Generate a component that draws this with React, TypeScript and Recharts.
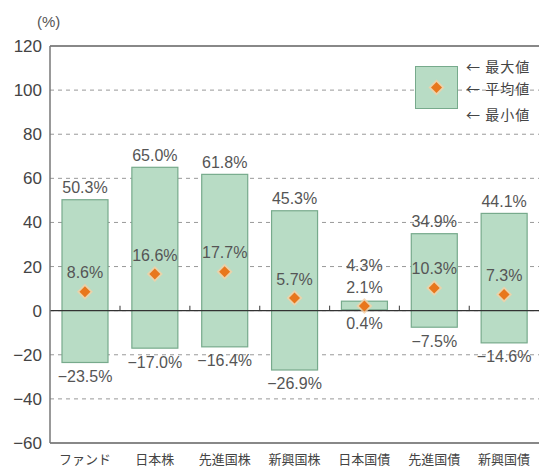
import React from "react";
import {
  ComposedChart,
  Bar,
  Line,
  XAxis,
  YAxis,
  CartesianGrid,
  ReferenceLine,
} from "recharts";

const categories = ["ファンド", "日本株", "先進国株", "新興国株", "日本国債", "先進国債", "新興国債"];
const maxValues = [50.3, 65.0, 61.8, 45.3, 4.3, 34.9, 44.1];
const meanValues = [8.6, 16.6, 17.7, 5.7, 2.1, 10.3, 7.3];
const minValues = [-23.5, -17.0, -16.4, -26.9, 0.4, -7.5, -14.6];
const yTicks = [-60, -40, -20, 0, 20, 40, 60, 80, 100, 120];
const legendLabels = ["最大値", "平均値", "最小値"];

const data = categories.map((name, i) => ({
  name,
  range: [minValues[i], maxValues[i]],
  max: maxValues[i],
  mean: meanValues[i],
  min: minValues[i],
  idx: i,
}));

const GAP = 12;
const numFont = "'Liberation Sans', Arial, sans-serif";
const jpFont = "'Noto Sans CJK JP', sans-serif";
const barFill = "#b8dcc5";
const barStroke = "#77aa8c";

const fmt = (v: number) => (v < 0 ? "\u2212" + Math.abs(v).toFixed(1) : v.toFixed(1)) + "%";

const RangeShape = (props: any) => {
  const { x, y, width, height, payload } = props;
  const top = Math.min(y, y + height);
  const h = Math.abs(height);
  const span = payload.max - payload.min;
  const perUnit = h / span;
  const meanY = top + (payload.max - payload.mean) * perUnit;
  const zeroY = top + payload.max * perUnit;
  const cx = x + width / 2;
  const meanLabelY = meanY - 19;
  const maxLabelY = Math.min(top - 12, meanLabelY - 22);
  const txt = { fontFamily: numFont, fontSize: 16, fill: "#555", textAnchor: "middle" as const, dominantBaseline: "central" as const };
  return (
    <g>
      <rect x={x} y={top} width={width} height={h} fill={barFill} stroke={barStroke} strokeWidth={1.2} />
      {payload.idx < categories.length - 1 && (
        <line x1={x + width + GAP} x2={x + width + GAP} y1={zeroY - 5} y2={zeroY} stroke="#555" strokeWidth={1.2} />
      )}
      <text x={cx} y={maxLabelY} {...txt}>{fmt(payload.max)}</text>
      <text x={cx} y={meanLabelY} {...txt}>{fmt(payload.mean)}</text>
      <text x={cx} y={top + h + 14} {...txt}>{fmt(payload.min)}</text>
    </g>
  );
};

const Diamond = (props: any) => {
  const { cx, cy } = props;
  if (cx == null || cy == null) return null;
  return (
    <g>
      <polygon points={`${cx},${cy - 8} ${cx + 8},${cy} ${cx},${cy + 8} ${cx - 8},${cy}`} fill="#f6cfa4" opacity={0.8} />
      <polygon points={`${cx},${cy - 5.5} ${cx + 5.5},${cy} ${cx},${cy + 5.5} ${cx - 5.5},${cy}`} fill="#e8771d" />
    </g>
  );
};

export default function App() {
  return (
    <div style={{ position: "absolute", left: 0, top: 0, width: 539, height: 475, background: "#fff" }}>
      <ComposedChart
        width={539}
        height={475}
        data={data}
        margin={{ top: 46, right: 0, left: 0, bottom: 0 }}
        barCategoryGap={GAP}
      >
        <CartesianGrid vertical={false} stroke="#999" strokeDasharray="4 4" />
        <XAxis
          dataKey="name"
          axisLine={false}
          tickLine={false}
          height={32}
          tick={{ fontSize: 13, fill: "#444", fontFamily: jpFont }}
          interval={0}
          tickMargin={6}
        />
        <YAxis
          domain={[-60, 120]}
          ticks={yTicks}
          width={50}
          axisLine={{ stroke: "#777", strokeWidth: 1.5 }}
          tickLine={false}
          tickMargin={2}
          tickFormatter={(v: number) => (v < 0 ? "\u2212" + Math.abs(v) : String(v))}
          tick={{ fontSize: 17, fill: "#444", fontFamily: numFont }}
        />
        <ReferenceLine y={120} stroke="#888" strokeWidth={2} />
        <ReferenceLine y={-60} stroke="#888" strokeWidth={2} />
        <ReferenceLine y={0} stroke="#333" strokeWidth={1.2} />
        <Bar dataKey="range" shape={RangeShape} isAnimationActive={false} />
        <Line
          dataKey="mean"
          stroke="none"
          dot={<Diamond />}
          activeDot={false}
          isAnimationActive={false}
        />
      </ComposedChart>
      <div style={{ position: "absolute", left: 37, top: 13, fontFamily: numFont, fontSize: 15, color: "#555" }}>(%)</div>
      <div style={{ position: "absolute", left: 415, top: 66, width: 43, height: 43, boxSizing: "border-box", background: barFill, border: `1px solid ${barStroke}` }}>
        <svg width={41} height={41} style={{ position: "absolute", left: 0, top: 0 }}>
          <Diamond cx={20.5} cy={20.5} />
        </svg>
      </div>
      {legendLabels.map((t, i) => (
        <div
          key={t}
          style={{
            position: "absolute",
            left: 466,
            top: [56, 78, 104][i],
            fontFamily: jpFont,
            fontSize: 14,
            color: "#444",
            whiteSpace: "nowrap",
            letterSpacing: 1,
          }}
        >
          ← {t}
        </div>
      ))}
    </div>
  );
}
